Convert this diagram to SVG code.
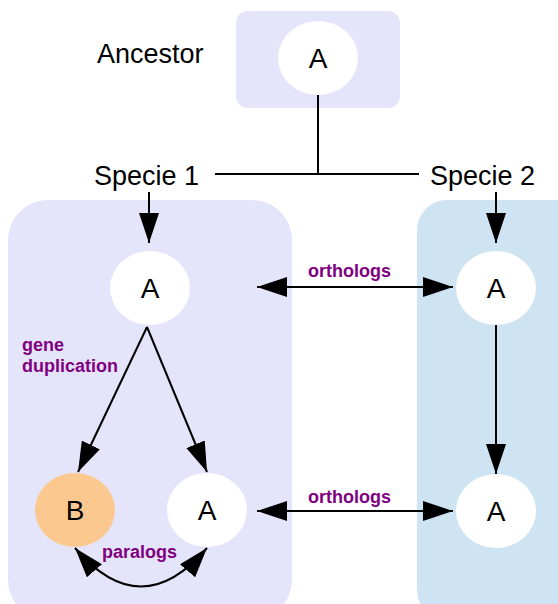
<svg xmlns="http://www.w3.org/2000/svg" width="558" height="604" viewBox="0 0 558 604">
  <defs>
    <marker id="arrow" viewBox="0 0 30 20" refX="30" refY="10" markerWidth="30" markerHeight="20" markerUnits="userSpaceOnUse" orient="auto-start-reverse">
      <path d="M0,0 L30,10 L0,20 Z" fill="#000"/>
    </marker>
    <style>
      .lbl { font-family: "Liberation Sans", Arial, sans-serif; font-size: 27px; fill: #000; }
      .node-text { font-family: "Liberation Sans", Arial, sans-serif; font-size: 28px; fill: #000; text-anchor: middle; }
      .edge-lbl { font-family: "Liberation Sans", Arial, sans-serif; font-size: 18px; font-weight: bold; fill: #800080; }
      .edge { fill: none; stroke: #000; stroke-width: 2; }
      .gene { fill: #fff; }
    </style>
  </defs>

  <!-- cluster backgrounds -->
  <rect id="cluster-ancestor" x="236" y="11" width="164" height="97" rx="12" fill="#e4e4fa"/>
  <rect id="cluster-specie1" x="8" y="200" width="284" height="420" rx="40" fill="#e4e4fa"/>
  <rect id="cluster-specie2" x="417" y="200" width="180" height="420" rx="30" fill="#cfe4f3"/>

  <!-- plain labels -->
  <text class="lbl" x="97" y="63">Ancestor</text>
  <text class="lbl" x="94" y="185">Specie 1</text>
  <text class="lbl" x="430" y="185">Specie 2</text>

  <!-- connectors -->
  <g id="connectors">
    <path class="edge" d="M318,95 L318,174"/>
    <path class="edge" d="M215,174 L419,174"/>
    <path class="edge" d="M149,192 L149,243" marker-end="url(#arrow)"/>
    <path class="edge" d="M496,192 L496,243" marker-end="url(#arrow)"/>
    <path class="edge" d="M147,327 L78,472" marker-end="url(#arrow)"/>
    <path class="edge" d="M147,327 L207,472" marker-end="url(#arrow)"/>
    <path class="edge" d="M496,325 L496,474" marker-end="url(#arrow)"/>
    <path class="edge" d="M257,287 L453,287" marker-start="url(#arrow)" marker-end="url(#arrow)"/>
    <path class="edge" d="M257,511 L453,511" marker-start="url(#arrow)" marker-end="url(#arrow)"/>
    <path class="edge" d="M75,548 Q141,625 207,548" marker-start="url(#arrow)" marker-end="url(#arrow)"/>
    <text class="edge-lbl" x="22" y="351">gene</text>
    <text class="edge-lbl" x="22" y="372">duplication</text>
    <text class="edge-lbl" x="308" y="277">orthologs</text>
    <text class="edge-lbl" x="308" y="503">orthologs</text>
    <text class="edge-lbl" x="102" y="558">paralogs</text>
  </g>

  <!-- gene nodes -->
  <g id="ancestor-A">
    <ellipse class="gene" cx="318" cy="58" rx="40" ry="37"/>
    <text class="node-text" x="318" y="68">A</text>
  </g>
  <g id="s1-A">
    <ellipse class="gene" cx="150" cy="288" rx="40" ry="37"/>
    <text class="node-text" x="150" y="298">A</text>
  </g>
  <g id="s1-B">
    <ellipse cx="75" cy="510" rx="40" ry="37" fill="#fbc98f"/>
    <text class="node-text" x="75" y="520">B</text>
  </g>
  <g id="s1-A2">
    <ellipse class="gene" cx="207" cy="510" rx="40" ry="37"/>
    <text class="node-text" x="207" y="520">A</text>
  </g>
  <g id="s2-A">
    <ellipse class="gene" cx="496" cy="288" rx="40" ry="37"/>
    <text class="node-text" x="496" y="298">A</text>
  </g>
  <g id="s2-A2">
    <ellipse class="gene" cx="496" cy="511" rx="40" ry="37"/>
    <text class="node-text" x="496" y="521">A</text>
  </g>
</svg>
